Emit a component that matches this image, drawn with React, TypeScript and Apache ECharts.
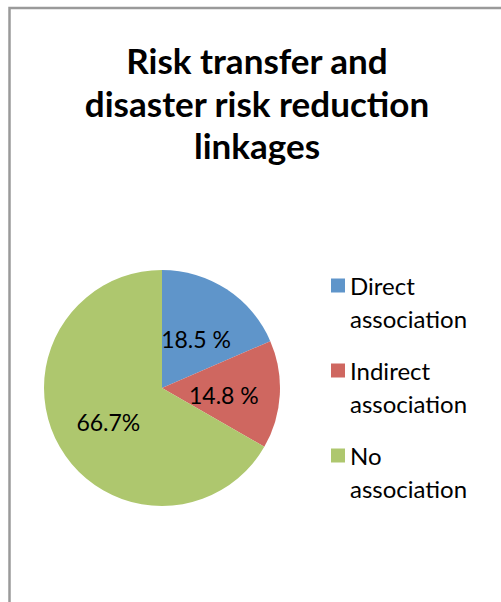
import React, { useEffect, useRef } from "react";
import * as echarts from "echarts";

const titleText = "Risk transfer and\ndisaster risk reduction\nlinkages";
const categories = ["Direct association", "Indirect association", "No association"];
const values = [18.5, 14.8, 66.7];
const valueLabels = ["18.5 %", "14.8 %", "66.7%"];
const colors = ["#5F95CA", "#CF6760", "#AEC76E"];

export default function App() {
  const ref = useRef<HTMLDivElement>(null);
  useEffect(() => {
    if (!ref.current) return;
    const chart = echarts.init(ref.current, undefined, { renderer: "svg" });
    chart.setOption({
      animation: false,
      backgroundColor: "#ffffff",
      title: {
        text: titleText,
        left: 257,
        top: 39,
        textAlign: "center",
        padding: 0,
        textStyle: {
          fontFamily: "Lato",
          fontWeight: "bold",
          fontSize: 35,
          lineHeight: 42.5,
          color: "#000000",
        },
      },
      graphic: [
        {
          type: "rect",
          shape: { x: 9.5, y: 8, width: 700, height: 800 },
          style: { fill: "none", stroke: "#9a9a9a", lineWidth: 2.5 },
          silent: true,
        },
      ],
      legend: {
        orient: "vertical",
        left: 331,
        top: 236,
        padding: 0,
        itemWidth: 14,
        itemHeight: 14,
        itemGap: -14,
        icon: "rect",
        data: categories,
        formatter: (name: string) => "\n" + name.replace(" ", "\n"),
        textStyle: {
          fontFamily: "Lato",
          fontSize: 24,
          lineHeight: 33,
          color: "#000000",
        },
      },
      series: [
        {
          type: "pie",
          center: [162, 388],
          radius: 118,
          startAngle: 90,
          clockwise: true,
          avoidLabelOverlap: false,
          data: categories.map((name, i) => ({
            name,
            value: values[i],
            itemStyle: { color: colors[i] },
          })),
          label: {
            show: true,
            position: "inside",
            formatter: (p: any) => valueLabels[p.dataIndex],
            fontFamily: "Lato",
            fontSize: 23,
            color: "#000000",
            offset: [0, 3],
          },
          labelLine: { show: false },
          emphasis: { disabled: true },
        },
      ],
    });
    return () => chart.dispose();
  }, []);
  return (
    <div
      ref={ref}
      style={{ position: "fixed", left: 0, top: 0, width: 501, height: 602 }}
    />
  );
}
